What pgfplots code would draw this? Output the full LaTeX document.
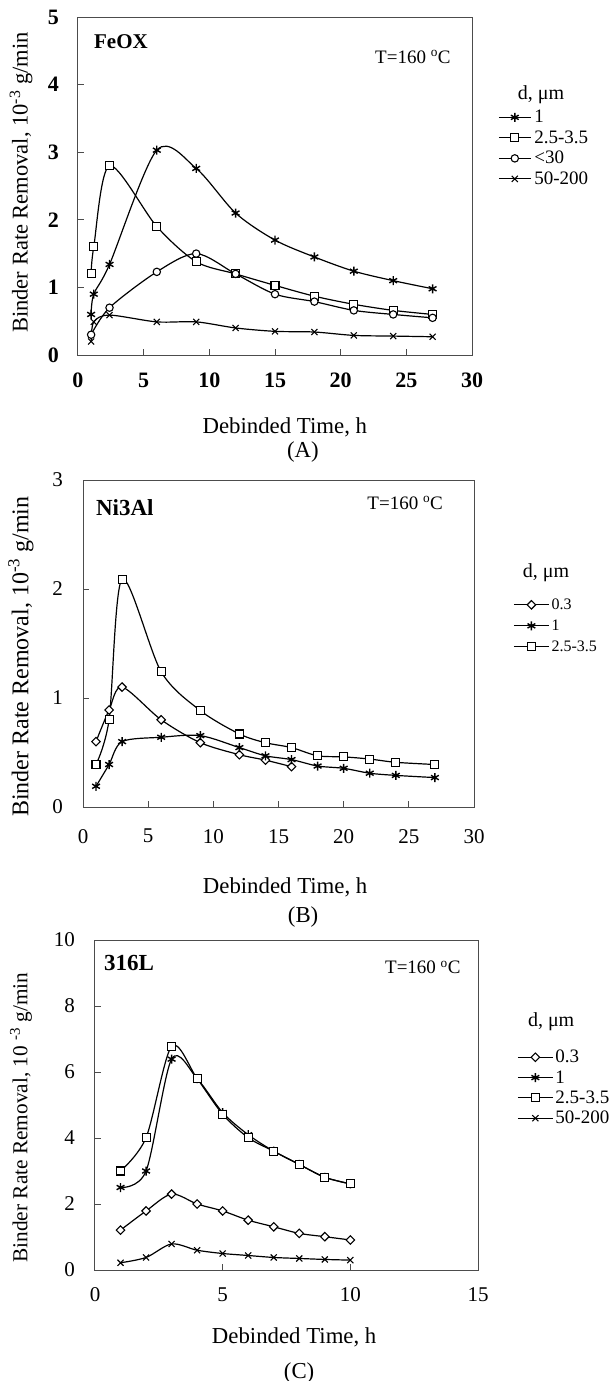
\documentclass[border=0pt]{standalone}
\usepackage{fontspec}
\setmainfont{Liberation Serif}
\usepackage{pgfplots}
\pgfplotsset{compat=1.18}
\pgfplotsset{
  panel/.style={
    scale only axis, clip=false,
    axis line style={black!70, line width=1pt},
    tick style={black!70, line width=1pt},
    major tick length=6pt,
    tick pos=left,
    /pgf/number format/assume math mode=true,
    every axis plot/.append style={black, line width=1.2pt, smooth, tension=0.5,
      mark options={solid, fill=white, line width=1.1pt}},
    legend cell align=left,
  },
  sq/.style={mark=square*, mark size=4},
  dia/.style={mark=square*, mark size=3, every mark/.append style={rotate=45}},
  circ/.style={mark=*, mark size=3.7},
  star/.style={mark=asterisk, mark size=4.5, every mark/.append style={line width=1.4pt}},
  cross/.style={mark=x, mark size=4.3},
}
\begin{document}
\begin{tikzpicture}
\path[use as bounding box] (0pt,0pt) rectangle (611pt,-1381pt);
% ---------------- (A) FeOX
\begin{axis}[panel,
  at={(78pt,-355pt)}, anchor=south west, width=394pt, height=338pt,
  xmin=0, xmax=30, ymin=0, ymax=5, xtick={0,5,...,30}, ytick={0,1,...,5},
  tick align=inside,
  tick label style={font=\bfseries\fontsize{22}{22}\selectfont},
  xticklabel style={anchor=north, inner sep=0pt, yshift=-18pt},
  yticklabel style={anchor=east, inner sep=0pt, xshift=-19pt},
  xlabel={Debinded Time, h},
  ylabel={Binder Rate Removal, 10\textsuperscript{-3} g/min},
  xlabel style={at={(axis description cs:0.525,-0.213)}, anchor=center, font=\fontsize{22.8}{24}\selectfont},
  ylabel style={at={(axis description cs:-0.1447,0.510)}, anchor=center, font=\fontsize{22.5}{24}\selectfont},
  legend style={at={(axis description cs:1.066,0.734)}, anchor=north west, draw=none, fill=none, inner sep=0pt,
    font=\fontsize{19}{19}\selectfont, nodes={inner sep=0pt, minimum height=20.5pt},
    row sep=0pt, /tikz/every odd column/.append style={column sep=3pt}},
  legend image code/.code={\draw[mark repeat=2,mark phase=2,#1] plot coordinates {(0pt,0pt)(16pt,0pt)(32pt,0pt)};},
]
\addplot[star] coordinates {(1,0.6)(1.2,0.9)(2.4,1.34)(6,3.03)(9,2.76)(12,2.1)(15,1.7)(18,1.45)(21,1.24)(24,1.1)(27,0.98)};
\addlegendentry{1}
\addplot[sq] coordinates {(1,1.2)(1.2,1.6)(2.4,2.8)(6,1.9)(9,1.38)(12,1.2)(15,1.03)(18,0.87)(21,0.75)(24,0.66)(27,0.6)};
\addlegendentry{2.5-3.5}
\addplot[circ] coordinates {(1,0.3)(2.4,0.7)(6,1.23)(9,1.5)(12,1.2)(15,0.9)(18,0.79)(21,0.66)(24,0.6)(27,0.55)};
\addlegendentry{<30}
\addplot[cross] coordinates {(1,0.2)(1.2,0.49)(2.4,0.59)(6,0.49)(9,0.49)(12,0.4)(15,0.35)(18,0.34)(21,0.29)(24,0.28)(27,0.27)};
\addlegendentry{50-200}
\node[font=\bfseries\fontsize{21}{21}\selectfont] at (axis description cs:0.109,0.926) {FeOX};
\node[font=\fontsize{19}{19}\selectfont] at (axis description cs:0.850,0.882) {T=160 \textsuperscript{o}C};
\node[font=\fontsize{20}{20}\selectfont] at (axis description cs:1.175,0.769) {d, μm};
\node[font=\fontsize{22.8}{24}\selectfont] at (axis description cs:0.571,-0.287) {(A)};
\end{axis}
% ---------------- (B) Ni3Al
\begin{axis}[panel,
  at={(83pt,-807pt)}, anchor=south west, width=391pt, height=327pt,
  xmin=0, xmax=30, ymin=0, ymax=3, xtick={0,5,...,30}, ytick={0,1,2,3},
  tick align=inside,
  tick label style={font=\fontsize{21}{21}\selectfont},
  xticklabel style={anchor=north, inner sep=0pt, yshift=-22pt},
  yticklabel style={anchor=east, inner sep=0pt, xshift=-20pt},
  xlabel={Debinded Time, h},
  ylabel={Binder Rate Removal, 10\textsuperscript{-3} g/min},
  xlabel style={at={(axis description cs:0.517,-0.245)}, anchor=center, font=\fontsize{22.8}{24}\selectfont},
  ylabel style={at={(axis description cs:-0.159,0.460)}, anchor=center, font=\fontsize{24}{26}\selectfont},
  legend style={at={(axis description cs:1.100,0.651)}, anchor=north west, draw=none, fill=none, inner sep=0pt,
    font=\fontsize{16}{16}\selectfont, nodes={inner sep=0pt, minimum height=21pt},
    row sep=0pt, /tikz/every odd column/.append style={column sep=2pt}},
  legend image code/.code={\draw[mark repeat=2,mark phase=2,#1] plot coordinates {(0pt,0pt)(17.5pt,0pt)(35pt,0pt)};},
]
\addplot[dia] coordinates {(1,0.6)(2,0.89)(3,1.1)(6,0.8)(9,0.59)(12,0.48)(14,0.43)(16,0.37)};
\addlegendentry{0.3}
\addplot[star] coordinates {(1,0.19)(2,0.39)(3,0.6)(6,0.64)(9,0.655)(12,0.545)(14,0.47)(16,0.435)(18,0.376)(20,0.355)(22,0.31)(24,0.29)(27,0.27)};
\addlegendentry{1}
\addplot[sq] coordinates {(1,0.39)(2,0.8)(3,2.09)(6,1.24)(9,0.885)(12,0.67)(14,0.59)(16,0.545)(18,0.47)(20,0.46)(22,0.44)(24,0.41)(27,0.39)};
\addlegendentry{2.5-3.5}
\node[font=\bfseries\fontsize{23}{23}\selectfont] at (axis description cs:0.107,0.917) {Ni3Al};
\node[font=\fontsize{19}{19}\selectfont] at (axis description cs:0.824,0.930) {T=160 \textsuperscript{o}C};
\node[font=\fontsize{20}{20}\selectfont] at (axis description cs:1.184,0.716) {d, μm};
\node[font=\fontsize{22.8}{24}\selectfont] at (axis description cs:0.563,-0.336) {(B)};
\end{axis}
% ---------------- (C) 316L
\begin{axis}[panel,
  at={(95pt,-1270pt)}, anchor=south west, width=383pt, height=330pt,
  xmin=0, xmax=15, ymin=0, ymax=10, xtick={0,5,10,15}, ytick={0,2,...,10},
  tick align=inside,
  tick label style={font=\fontsize{21}{21}\selectfont},
  xticklabel style={anchor=north, inner sep=0pt, yshift=-17.5pt},
  yticklabel style={anchor=east, inner sep=0pt, xshift=-20pt},
  xlabel={Debinded Time, h},
  ylabel={Binder Rate Removal, 10 \textsuperscript{-3} g/min},
  xlabel style={at={(axis description cs:0.520,-0.203)}, anchor=center, font=\fontsize{22.8}{24}\selectfont},
  ylabel style={at={(axis description cs:-0.193,0.462)}, anchor=center, font=\fontsize{21.3}{24}\selectfont},
  legend style={at={(axis description cs:1.102,0.676)}, anchor=north west, draw=none, fill=none, inner sep=0pt,
    font=\fontsize{19}{19}\selectfont, nodes={inner sep=0pt, minimum height=20.3pt},
    row sep=0pt, /tikz/every odd column/.append style={column sep=2pt}},
  legend image code/.code={\draw[mark repeat=2,mark phase=2,#1] plot coordinates {(0pt,0pt)(17.5pt,0pt)(35pt,0pt)};},
]
\addplot[dia] coordinates {(1,1.21)(2,1.79)(3,2.3)(4,2.0)(5,1.79)(6,1.51)(7,1.31)(8,1.11)(9,1.01)(10,0.91)};
\addlegendentry{0.3}
\addplot[star] coordinates {(1,2.5)(2,3.0)(3,6.39)(4,5.8)(5,4.77)(6,4.1)(7,3.6)(8,3.2)(9,2.81)(10,2.61)};
\addlegendentry{1}
\addplot[sq] coordinates {(1,3.0)(2,4.01)(3,6.78)(4,5.8)(5,4.72)(6,4.01)(7,3.6)(8,3.2)(9,2.81)(10,2.61)};
\addlegendentry{2.5-3.5}
\addplot[cross] coordinates {(1,0.22)(2,0.38)(3,0.79)(4,0.6)(5,0.5)(6,0.44)(7,0.38)(8,0.35)(9,0.32)(10,0.3)};
\addlegendentry{50-200}
\node[font=\bfseries\fontsize{23}{23}\selectfont] at (axis description cs:0.089,0.930) {316L};
\node[font=\fontsize{19}{19}\selectfont] at (axis description cs:0.856,0.918) {T=160 \textsuperscript{o}C};
\node[font=\fontsize{20}{20}\selectfont] at (axis description cs:1.191,0.752) {d, μm};
\node[font=\fontsize{22.8}{24}\selectfont] at (axis description cs:0.533,-0.312) {(C)};
\end{axis}
\end{tikzpicture}
\end{document}
